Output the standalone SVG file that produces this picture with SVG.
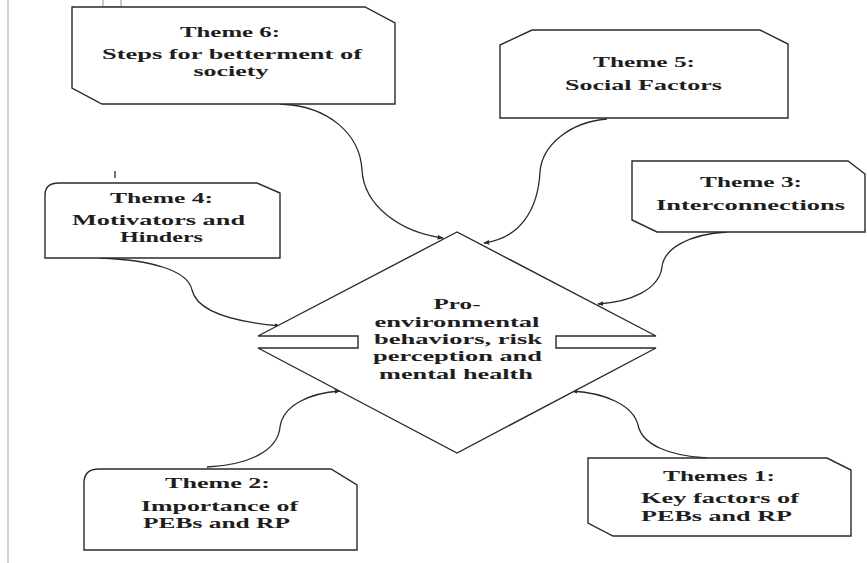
<svg xmlns="http://www.w3.org/2000/svg" width="867" height="563" viewBox="0 0 867 563">
<defs>
<style>
.box{fill:#fff;stroke:#2a2a2a;stroke-width:1.4}
.conn{fill:none;stroke:#2a2a2a;stroke-width:1.3;marker-end:url(#ah)}
.t{font-family:"Liberation Serif","Times New Roman",serif;font-weight:bold;font-size:15px;fill:#1e1e1e;text-anchor:middle}
</style>
<marker id="ah" viewBox="0 0 10 10" refX="9" refY="5" markerWidth="6" markerHeight="6" markerUnits="userSpaceOnUse" orient="auto">
<path d="M0,1 L10,5 L0,9 Z" fill="#2a2a2a"/>
</marker>
</defs>
<rect width="867" height="563" fill="#fff"/>
<line x1="8" y1="0" x2="8" y2="563" stroke="#c8c8c8" stroke-width="1.5"/>
<rect x="103" y="-3" width="18" height="10" fill="none" stroke="#9a9a9a" stroke-width="1"/>
<line x1="115" y1="171" x2="115" y2="178" stroke="#2a2a2a" stroke-width="1.3"/>

<g id="connectors">
<path class="conn" d="M280,104 C330,106 360,135 362,170 C364,206 400,232 443,238"/>
<path class="conn" d="M607,119 C570,122 542,145 540,172 C538,210 520,238 484,243"/>
<path class="conn" d="M100,258 C150,260 188,270 192,290 C197,312 235,322 280,326"/>
<path class="conn" d="M727,232 C690,234 664,248 662,267 C659,290 630,302 598,304"/>
<path class="conn" d="M207,467 C250,465 278,450 280,427 C283,405 310,393 340,391"/>
<path class="conn" d="M707,458 C670,456 642,445 638,425 C633,405 605,393 572,391"/>
</g>

<g id="center">
<path class="box" d="M457,232 L258,336 L358,336 L358,348 L258,348 L457,453 L656,348 L556,348 L556,336 L656,336 Z"/>
<text class="t" x="457" y="309" textLength="47" lengthAdjust="spacingAndGlyphs">Pro-</text>
<text class="t" x="457" y="326.5" textLength="165" lengthAdjust="spacingAndGlyphs">environmental</text>
<text class="t" x="458" y="344" textLength="168" lengthAdjust="spacingAndGlyphs">behaviors, risk</text>
<text class="t" x="457.5" y="361" textLength="169" lengthAdjust="spacingAndGlyphs">perception and</text>
<text class="t" x="456" y="378.5" textLength="154" lengthAdjust="spacingAndGlyphs">mental health</text>
</g>

<g id="theme6">
<path class="box" d="M72,7 L365,7 L395,23 L395,104 L102,104 L72,88 Z"/>
<text class="t" x="230" y="37" textLength="100" lengthAdjust="spacingAndGlyphs">Theme 6:</text>
<text class="t" x="232" y="59" textLength="260" lengthAdjust="spacingAndGlyphs">Steps for betterment of</text>
<text class="t" x="231" y="76" textLength="75" lengthAdjust="spacingAndGlyphs">society</text>
</g>

<g id="theme5">
<path class="box" d="M532,30 L760,30 L788,44 L788,118 L500,118 L500,45 Z"/>
<text class="t" x="644" y="67" textLength="102" lengthAdjust="spacingAndGlyphs">Theme 5:</text>
<text class="t" x="643.5" y="90" textLength="157" lengthAdjust="spacingAndGlyphs">Social Factors</text>
</g>

<g id="theme4">
<path class="box" d="M59,183 L257,183 L280,193 L280,258 L45,258 L45,195 Q45,183 59,183 Z"/>
<text class="t" x="161.5" y="203" textLength="103" lengthAdjust="spacingAndGlyphs">Theme 4:</text>
<text class="t" x="158.5" y="225" textLength="173" lengthAdjust="spacingAndGlyphs">Motivators and</text>
<text class="t" x="161.5" y="242" textLength="83" lengthAdjust="spacingAndGlyphs">Hinders</text>
</g>

<g id="theme3">
<path class="box" d="M632,161 L848,161 L865,174 L865,232 L657,232 L632,220 Z"/>
<text class="t" x="751" y="187" textLength="102" lengthAdjust="spacingAndGlyphs">Theme 3:</text>
<text class="t" x="750.5" y="210" textLength="189" lengthAdjust="spacingAndGlyphs">Interconnections</text>
</g>

<g id="theme2">
<path class="box" d="M99,469 L331,469 L357,485 L357,550 L84,550 L84,483 Q84,469 99,469 Z"/>
<text class="t" x="217.5" y="488" textLength="105" lengthAdjust="spacingAndGlyphs">Theme 2:</text>
<text class="t" x="219.5" y="511" textLength="157" lengthAdjust="spacingAndGlyphs">Importance of</text>
<text class="t" x="216.5" y="528" textLength="147" lengthAdjust="spacingAndGlyphs">PEBs and RP</text>
</g>

<g id="theme1">
<path class="box" d="M588,458 L827,458 L851,470 L851,536 L613,536 L588,523 Z"/>
<text class="t" x="719" y="481" textLength="112" lengthAdjust="spacingAndGlyphs">Themes 1:</text>
<text class="t" x="720" y="503" textLength="158" lengthAdjust="spacingAndGlyphs">Key factors of</text>
<text class="t" x="716.5" y="521" textLength="151" lengthAdjust="spacingAndGlyphs">PEBs and RP</text>
</g>
</svg>
